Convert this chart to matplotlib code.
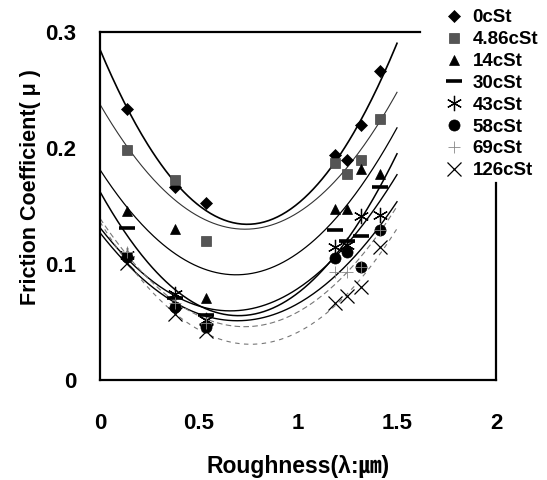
import matplotlib
matplotlib.use("Agg")
import matplotlib.pyplot as plt
import numpy as np

plt.rcParams.update({
    "font.family": ["Liberation Sans", "Noto Sans CJK KR", "DejaVu Sans"],
    "font.weight": "bold",
    "axes.linewidth": 1.6,
})

# roughness positions of the measurements (um)
roughness = [0.137, 0.38, 0.535, 1.185, 1.245, 1.32, 1.415]

labels = ["0cSt", "4.86cSt", "14cSt", "30cSt", "43cSt", "58cSt", "69cSt", "126cSt"]

mu_0 = [0.234, 0.166, 0.153, 0.194, 0.190, 0.220, 0.266]
mu_486 = [0.198, 0.172, 0.120, 0.187, 0.178, 0.190, 0.225]
mu_14 = [0.146, 0.130, 0.071, 0.147, 0.147, 0.182, 0.178]
mu_30 = [0.131, 0.071, 0.056, 0.129, 0.120, 0.124, 0.166]
mu_43 = [0.108, 0.074, 0.052, 0.115, 0.116, 0.141, 0.142]
mu_58 = [0.106, 0.063, 0.046, 0.105, 0.110, 0.097, 0.129]
mu_69 = [0.110, 0.066, 0.049, 0.093, 0.093, 0.097, 0.129]
mu_126 = [0.101, 0.057, 0.042, 0.066, 0.072, 0.080, 0.115]

series = [mu_0, mu_486, mu_14, mu_30, mu_43, mu_58, mu_69, mu_126]

# marker style per series: (marker, size, face, edge, edge width)
markers = [
    ("D", 6.5, "black", "black", 0.5),
    ("s", 7, "#555555", "#444444", 0.5),
    ("^", 7.5, "black", "black", 0.5),
    ("_", 12, "black", "black", 2.6),
    ((6, 2, 0), 11, "black", "black", 0.9),
    ("o", 8, "black", "black", 0.5),
    ("+", 9, "#888888", "#888888", 0.6),
    ("x", 10, "black", "black", 0.9),
]
# trend line style per series: (colour, width, dashes)
trend_style = [
    ("black", 1.2, "-"),
    ("#333333", 0.8, "-"),
    ("black", 0.9, "-"),
    ("black", 1.1, "-"),
    ("black", 1.0, "-"),
    ("black", 1.0, "-"),
    ("#777777", 0.8, (0, (5, 3))),
    ("#777777", 0.8, (0, (4, 4))),
]

fig = plt.figure(figsize=(5.47, 4.8), dpi=100)
ax = fig.add_axes([100 / 547, 100 / 480, 396 / 547, 348 / 480])

# second-order trend line through each viscosity series
xs = np.linspace(0, 1.5, 200)
handles = []
for vals, (lc, lw, ls) in zip(series, trend_style):
    coef = np.polyfit(roughness, vals, 2)
    ax.plot(xs, np.polyval(coef, xs), color=lc, lw=lw, ls=ls, zorder=2)
for vals, (m, ms, fc, ec, mew), lab in zip(series, markers, labels):
    h, = ax.plot(roughness, vals, ls="none", marker=m, ms=ms,
                 mfc=fc, mec=ec, mew=mew, label=lab, zorder=3)
    handles.append(h)

ax.set_xlim(0, 2)
ax.set_ylim(0, 0.3)
ax.set_xticks([0, 0.5, 1, 1.5, 2], ["0", "0.5", "1", "1.5", "2"])
ax.set_yticks([0, 0.1, 0.2, 0.3], ["0", "0.1", "0.2", "0.3"])
ax.tick_params(axis="x", length=0, pad=24, labelsize=16)
ax.tick_params(axis="y", length=0, pad=17, labelsize=16)
for t in ax.get_xticklabels() + ax.get_yticklabels():
    t.set_fontweight("bold")

ax.spines["top"].set_bounds(0, 1.615)
ax.spines["right"].set_bounds(0, 0.17)

ax.set_xlabel("Roughness(λ:㎛)", fontsize=16.5, fontweight="bold")
ax.xaxis.set_label_coords(0.5, -0.215)
ax.set_ylabel("Friction Coefficient( μ )", fontsize=15.5, fontweight="bold")
ax.yaxis.set_label_coords(-0.15, 0.555)

fig.legend(handles=handles, loc="upper left",
           bbox_to_anchor=(435 / 547, 1.0), bbox_transform=fig.transFigure,
           frameon=False, borderpad=0, handlelength=1.0, handletextpad=0.5,
           labelspacing=0.25, prop={"size": 13.5, "weight": "bold"})

fig.savefig("out.png", dpi=100)
